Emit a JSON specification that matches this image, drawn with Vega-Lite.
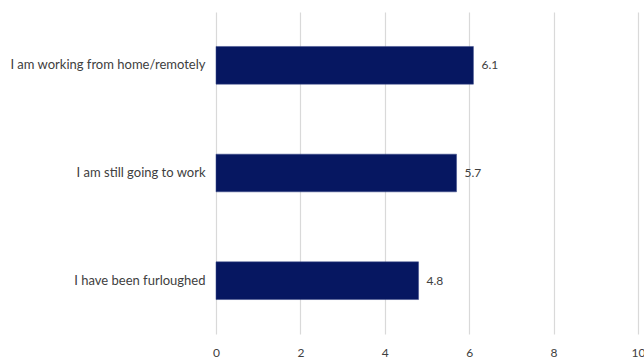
{
  "$schema": "https://vega.github.io/schema/vega-lite/v6.json",
  "autosize": {"type": "none"},
  "padding": {"left": 216, "top": 12, "right": 6, "bottom": 24},
  "width": 422,
  "height": 322,
  "background": "white",
  "config": {"view": {"stroke": null}, "font": "Lato"},
  "data": {"values": [
    {"status": "I am working from home/remotely", "value": 6.1},
    {"status": "I am still going to work", "value": 5.7},
    {"status": "I have been furloughed", "value": 4.8}
  ]},
  "encoding": {
    "y": {"field": "status", "type": "nominal", "sort": null,
      "scale": {"paddingInner": 0.65, "paddingOuter": 0.32},
      "axis": {"title": null, "domain": false, "ticks": false, "labelPadding": 11, "labelFontSize": 13, "labelColor": "#404040", "labelLimit": 300, "grid": false}},
    "x": {"field": "value", "type": "quantitative",
      "scale": {"domain": [0, 10], "nice": false},
      "axis": {"title": null, "values": [0, 2, 4, 6, 8, 10], "domain": false, "ticks": false, "grid": true, "gridColor": "#d9d9d9", "gridWidth": 1.2, "labelPadding": 13, "labelFontSize": 12, "labelColor": "#404040", "labelFlush": false}}
  },
  "layer": [
    {"mark": {"type": "bar", "color": "#061761", "stroke": "#3a4a8a", "strokeWidth": 0.5}},
    {"mark": {"type": "text", "align": "left", "dx": 8, "fontSize": 12, "color": "#404040"},
     "encoding": {"text": {"field": "value", "type": "quantitative", "format": ".1f"}}}
  ]
}
